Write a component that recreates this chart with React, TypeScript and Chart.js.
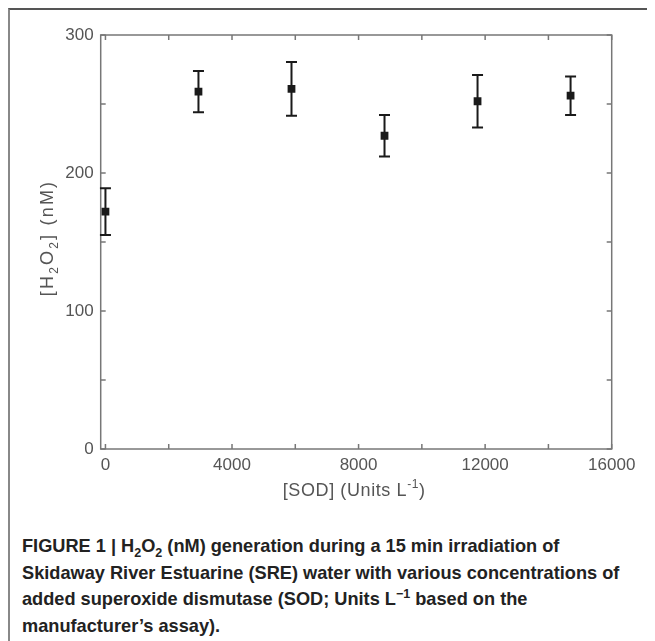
import React, { useEffect, useRef } from 'react';
import { Chart, registerables } from 'chart.js';
Chart.register(...registerables);

// Data
const sodUnits = [0, 2940, 5880, 8820, 11760, 14700];
const h2o2nM = [172, 259, 261, 227, 252, 256];
const h2o2Err = [17, 15, 19.5, 15, 19, 14];
// tick positions (minor + major) and labelled ticks
const xTickValues = [0, 2000, 4000, 6000, 8000, 10000, 12000, 14000, 16000];
const xTickLabels = ['0', '4000', '8000', '12000', '16000'];
const yTickValues = [0, 50, 100, 150, 200, 250, 300];
const yTickLabels = ['0', '100', '200', '300'];

const TICK_FONT = '"Liberation Sans", Arial, sans-serif';
const AXIS_GRAY = '#777';
const TEXT_GRAY = '#555';
const MARK = '#1a1a1a';

type Piece = { t: string; k?: 'sub' | 'sup' };

function drawPieces(ctx: CanvasRenderingContext2D, pieces: Piece[], x0: number, y: number, size: number, ls: number) {
  let x = x0;
  for (const p of pieces) {
    const s = p.k ? Math.round(size * 0.68) : size;
    ctx.font = `${s}px ${TICK_FONT}`;
    (ctx as any).letterSpacing = `${ls}px`;
    const dy = p.k === 'sub' ? size * 0.3 : p.k === 'sup' ? -size * 0.42 : 0;
    ctx.fillText(p.t, x, y + dy);
    x += ctx.measureText(p.t).width;
  }
}
function widthOf(ctx: CanvasRenderingContext2D, pieces: Piece[], size: number, ls: number) {
  let w = 0;
  for (const p of pieces) {
    const s = p.k ? Math.round(size * 0.68) : size;
    ctx.font = `${s}px ${TICK_FONT}`;
    (ctx as any).letterSpacing = `${ls}px`;
    w += ctx.measureText(p.t).width;
  }
  return w;
}

const framePlugin = {
  id: 'frameTicks',
  beforeDatasetsDraw(chart: any) {
    const { ctx, chartArea: a, scales } = chart;
    const tl = 5;
    ctx.save();
    ctx.strokeStyle = AXIS_GRAY;
    ctx.lineWidth = 1.5;
    ctx.strokeRect(a.left, a.top, a.right - a.left, a.bottom - a.top);
    ctx.beginPath();
    for (const t of scales.x.ticks) {
      const px = scales.x.getPixelForValue(t.value);
      ctx.moveTo(px, a.bottom); ctx.lineTo(px, a.bottom - tl);
      ctx.moveTo(px, a.top); ctx.lineTo(px, a.top + tl);
    }
    for (const t of scales.y.ticks) {
      const py = scales.y.getPixelForValue(t.value);
      ctx.moveTo(a.left, py); ctx.lineTo(a.left + tl, py);
      ctx.moveTo(a.right, py); ctx.lineTo(a.right - tl, py);
    }
    ctx.stroke();

    // error bars
    const xs = scales.x, ys = scales.y;
    ctx.strokeStyle = MARK;
    ctx.lineWidth = 2;
    ctx.beginPath();
    sodUnits.forEach((sx, i) => {
      const px = xs.getPixelForValue(sx);
      const top = ys.getPixelForValue(h2o2nM[i] + h2o2Err[i]);
      const bot = ys.getPixelForValue(h2o2nM[i] - h2o2Err[i]);
      ctx.moveTo(px, top); ctx.lineTo(px, bot);
      ctx.moveTo(px - 5.5, top); ctx.lineTo(px + 5.5, top);
      ctx.moveTo(px - 5.5, bot); ctx.lineTo(px + 5.5, bot);
    });
    ctx.stroke();
    ctx.restore();
  },
  afterDraw(chart: any) {
    const { ctx, chartArea: a } = chart;
    ctx.save();
    ctx.fillStyle = TEXT_GRAY;
    ctx.textBaseline = 'alphabetic';
    ctx.textAlign = 'left';
    const xt: Piece[] = [{ t: '[SOD] (Units L' }, { t: '-1', k: 'sup' }, { t: ')' }];
    const wx = widthOf(ctx, xt, 18, 0.6);
    drawPieces(ctx, xt, (a.left + a.right) / 2 - 2 - wx / 2, 486, 18, 0.6);

    const yt: Piece[] = [{ t: '[H' }, { t: '2', k: 'sub' }, { t: 'O' }, { t: '2', k: 'sub' }, { t: '] (nM)' }];
    const wy = widthOf(ctx, yt, 18, 2.2);
    ctx.translate(43, (a.top + a.bottom) / 2 - 4);
    ctx.rotate(-Math.PI / 2);
    drawPieces(ctx, yt, -wy / 2, 0, 18, 2.2);
    ctx.restore();
  },
};

const fmt = (labels: string[]) => (v: any) => (labels.includes(String(v)) ? String(v) : '');

export default function App() {
  const ref = useRef<HTMLCanvasElement | null>(null);
  useEffect(() => {
    if (!ref.current) return;
    const chart = new Chart(ref.current, {
      type: 'scatter',
      data: {
        datasets: [
          {
            data: sodUnits.map((x, i) => ({ x, y: h2o2nM[i] })),
            pointStyle: 'rect',
            pointRadius: 5.5,
            backgroundColor: MARK,
            borderWidth: 0,
            showLine: false,
          },
        ],
      },
      options: {
        animation: false,
        responsive: false,
        layout: { padding: { top: 25, left: 0, right: 43.3, bottom: 41 } },
        plugins: { legend: { display: false }, tooltip: { enabled: false } },
        scales: {
          x: {
            type: 'linear',
            min: -150,
            max: 16000,
            border: { display: false },
            grid: { display: false, drawTicks: false, tickLength: 0 },
            afterBuildTicks: (s: any) => { s.ticks = xTickValues.map((value) => ({ value })); },
            ticks: {
              autoSkip: false,
              maxRotation: 0,
              padding: 6,
              color: TEXT_GRAY,
              font: { size: 17, family: TICK_FONT },
              callback: fmt(xTickLabels),
            },
            afterFit: (s: any) => { s.height = 40; },
          },
          y: {
            type: 'linear',
            min: 0,
            max: 300,
            border: { display: false },
            grid: { display: false, drawTicks: false, tickLength: 0 },
            afterBuildTicks: (s: any) => { s.ticks = yTickValues.map((value) => ({ value })); },
            ticks: {
              autoSkip: false,
              padding: 7,
              color: TEXT_GRAY,
              font: { size: 17, family: TICK_FONT },
              callback: fmt(yTickLabels),
            },
            afterFit: (s: any) => { s.width = 90.7; },
          },
        },
      },
      plugins: [framePlugin],
    });
    return () => chart.destroy();
  }, []);

  const small = { fontSize: 12.5, lineHeight: 0 };
  return (
    <div
      style={{
        position: 'relative',
        width: 647,
        height: 633,
        boxSizing: 'border-box',
        borderTop: '2px solid #555',
        borderLeft: '2px solid #888',
        overflow: 'hidden',
        background: '#fff',
      }}
    >
      <canvas ref={ref} width={645} height={520} style={{ position: 'absolute', left: 0, top: 0 }} />
      <div
        style={{
          position: 'absolute',
          left: 12,
          top: 523,
          fontFamily: '"Liberation Sans", Arial, sans-serif',
          fontWeight: 'bold',
          fontSize: 18.2,
          lineHeight: '26.5px',
          color: '#222',
          whiteSpace: 'nowrap',
        }}
      >
        FIGURE 1 | H<sub style={small}>2</sub>O<sub style={small}>2</sub> (nM) generation during a 15 min irradiation of
        <br />
        Skidaway River Estuarine (SRE) water with various concentrations of
        <br />
        added superoxide dismutase (SOD; Units L<sup style={small}>−1</sup> based on the
        <br />
        manufacturer’s assay).
      </div>
    </div>
  );
}
